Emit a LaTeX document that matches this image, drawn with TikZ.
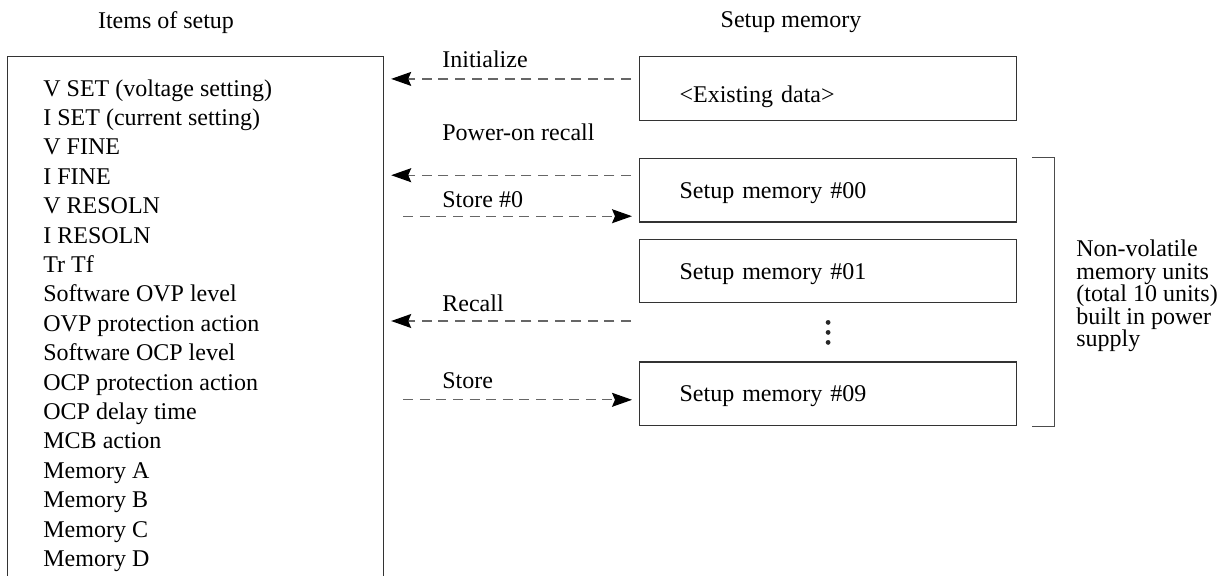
\documentclass[tikz,border=0pt]{standalone}
\usepackage{fontspec}
\setmainfont{Liberation Serif}
\usetikzlibrary{arrows.meta, positioning, calc}

\begin{document}
\begin{tikzpicture}[
    x=0.5pt, y=-0.5pt,
    >={Stealth[length=10pt, width=7pt, inset=1.5pt, black]},
    font=\fontsize{12}{14.7}\selectfont,
    memcell/.style={draw=black!80, line width=0.6pt, minimum height=31.8pt,
                    text width=148.5pt, inner xsep=20pt, align=left,
                    text height=8pt, text depth=0pt},
    flow/.style={dash pattern=on 5pt off 3.3pt, draw=black!60,
                 line width=0.6pt},
    tag/.style={inner sep=0pt, anchor=base west}
  ]
  \useasboundingbox (0,0) rectangle (1227,575);

  % headings
  \node[anchor=base, inner sep=0pt] (lhead) at (166,28) {Items of setup};
  \node[anchor=base, inner sep=0pt] (rhead) at (791,27) {Setup memory};

  % items of setup (frame runs past the bottom edge)
  \node[draw=black!80, line width=0.6pt, anchor=north west,
        minimum width=188pt, minimum height=290pt] (items) at (7,56) {};
  \node[anchor=north west, inner sep=0pt, align=left] (list) at (43,79)
    {V SET (voltage setting)\\I SET (current setting)\\V FINE\\I FINE\\
     V RESOLN\\I RESOLN\\Tr Tf\\Software OVP level\\OVP protection action\\
     Software OCP level\\OCP protection action\\OCP delay time\\MCB action\\
     Memory A\\Memory B\\Memory C\\Memory D};

  % setup memory cells
  \node[memcell, anchor=north west, text height=14pt] (existing) at (639,56)
    {<Existing data>};
  \node[memcell, below=18.5pt of existing] (mem00) {Setup memory \#00};
  \node[memcell, below=8pt of mem00] (mem01) {Setup memory \#01};
  \node[memcell, below=29pt of mem01] (mem09) {Setup memory \#09};

  \coordinate (gap) at ($(mem01.south)!0.5!(mem09.north)$);
  \foreach \d in {-5pt,0pt,5pt}
    \fill[black!85] ([yshift=\d]gap) circle (1.2pt);

  % transfers
  \draw[flow, ->, shorten <=4pt, shorten >=3.5pt]
    ([yshift=4.75pt]existing.west) -- ([yshift=4.75pt]existing.west -| items.east);
  \draw[flow, ->, shorten <=4pt, shorten >=3.5pt]
    ([yshift=7.5pt]mem00.west) -- ([yshift=7.5pt]mem00.west -| items.east);
  \draw[flow, ->, shorten <=9.5pt, shorten >=3.5pt]
    ([yshift=-13pt]mem00.west -| items.east) -- ([yshift=-13pt]mem00.west);
  \draw[flow, ->, shorten <=4pt, shorten >=3.5pt]
    ([yshift=-25pt]mem01.west) -- ([yshift=-25pt]mem01.west -| items.east);
  \draw[flow, ->, shorten <=9.5pt, shorten >=3.5pt]
    ([yshift=-3pt]mem09.west -| items.east) -- ([yshift=-3pt]mem09.west);

  \node[tag] (initlbl) at (442,67) {Initialize};
  \node[tag] (porlbl) at (442,140) {Power-on recall};
  \node[tag] (st0lbl) at (442,207) {Store \#0};
  \node[tag] (rcllbl) at (442,311) {Recall};
  \node[tag] (stlbl) at (442,388) {Store};

  % bracket round the memory units
  \draw[draw=black!70, line width=0.5pt]
    ([xshift=7.5pt]mem00.north east) -- ++(11pt,0) |- ([xshift=7.5pt]mem09.south east);
  \node[anchor=west, align=left, inner sep=0pt,
        font=\fontsize{12}{11.3}\selectfont] (nvnote) at (1076,296)
    {Non-volatile\\memory units\\(total 10 units)\\built in power\\supply};
\end{tikzpicture}
\end{document}
